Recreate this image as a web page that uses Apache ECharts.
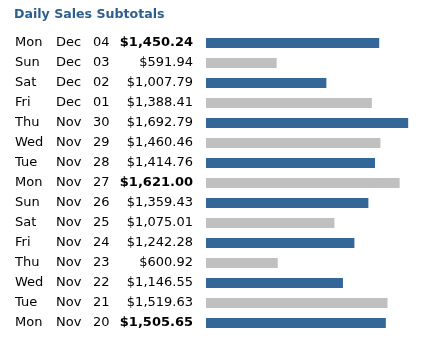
<!DOCTYPE html>
<html>
<head>
<meta charset="utf-8">
<script src="https://cdn.jsdelivr.net/npm/echarts@6/dist/echarts.min.js"></script>
<style>
  html, body { margin: 0; padding: 0; background: #fff; }
  #chart { width: 428px; height: 339px; }
</style>
</head>
<body>
<div id="chart"></div>
<script>
// Daily sales, newest first
const weekdays = ['Mon', 'Sun', 'Sat', 'Fri', 'Thu', 'Wed', 'Tue', 'Mon', 'Sun', 'Sat', 'Fri', 'Thu', 'Wed', 'Tue', 'Mon'];
const months   = ['Dec', 'Dec', 'Dec', 'Dec', 'Nov', 'Nov', 'Nov', 'Nov', 'Nov', 'Nov', 'Nov', 'Nov', 'Nov', 'Nov', 'Nov'];
const dayNums  = ['04', '03', '02', '01', '30', '29', '28', '27', '26', '25', '24', '23', '22', '21', '20'];
const sales    = [1450.24, 591.94, 1007.79, 1388.41, 1692.79, 1460.46, 1414.76, 1621.00, 1359.43, 1075.01, 1242.28, 600.92, 1146.55, 1519.63, 1505.65];

const categories = weekdays.map((w, i) => w + ' ' + months[i] + ' ' + dayNums[i]);

const BLUE = '#336699';
const GRAY = '#c0c0c0';

function money(v) {
  return '$' + v.toLocaleString('en-US', { minimumFractionDigits: 2, maximumFractionDigits: 2 });
}

const chart = echarts.init(document.getElementById('chart'));
chart.setOption({
  animation: false,
  backgroundColor: '#ffffff',
  title: {
    text: 'Daily Sales Subtotals',
    left: 14,
    top: 8,
    padding: 0,
    textStyle: { fontFamily: 'DejaVu Sans', fontSize: 12.6, fontWeight: 'bold', color: '#2d5f8e' }
  },
  grid: { left: 206, right: 7, top: 33, bottom: 6 },
  xAxis: {
    type: 'value',
    min: 0,
    max: 1800,
    show: false
  },
  yAxis: {
    type: 'category',
    inverse: true,
    data: categories,
    axisLine: { show: false },
    axisTick: { show: false },
    axisLabel: {
      margin: 13,
      align: 'right',
      formatter: function (value, idx) {
        const amt = money(sales[idx]);
        const vStyle = weekdays[idx] === 'Mon' ? 'vb' : 'v';
        return '{d|' + weekdays[idx] + '}{m|' + months[idx] + '}{n|' + dayNums[idx] + '}{' + vStyle + '|' + amt + '}';
      },
      rich: {
        d:  { width: 41, align: 'left', fontFamily: 'DejaVu Sans', fontSize: 13, color: '#000' },
        m:  { width: 37, align: 'left', fontFamily: 'DejaVu Sans', fontSize: 13, color: '#000' },
        n:  { width: 22, align: 'left', fontFamily: 'DejaVu Sans', fontSize: 13, color: '#000' },
        v:  { width: 78, align: 'right', fontFamily: 'DejaVu Sans', fontSize: 13, color: '#000' },
        vb: { width: 78, align: 'right', fontFamily: 'DejaVu Sans', fontSize: 13, fontWeight: 'bold', color: '#000' }
      }
    }
  },
  series: [{
    type: 'bar',
    barWidth: 10,
    data: sales.map((v, i) => ({ value: v, itemStyle: { color: i % 2 === 0 ? BLUE : GRAY } }))
  }]
});
</script>
</body>
</html>
